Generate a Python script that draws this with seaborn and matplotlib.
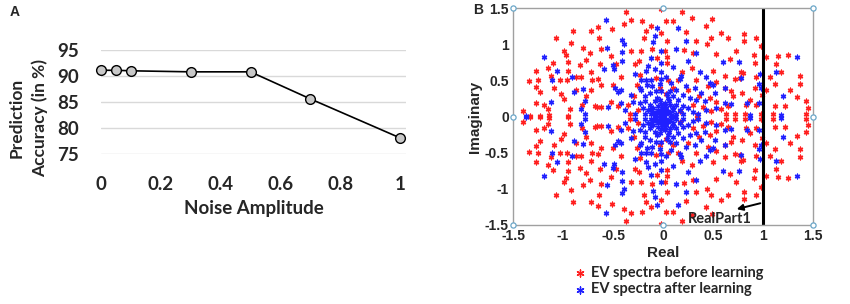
import numpy as np
import pandas as pd
import matplotlib
matplotlib.use("Agg")
import matplotlib.pyplot as plt
import seaborn as sns

# Panel A: accuracy vs noise
noise = [0, 0.05, 0.1, 0.3, 0.5, 0.7, 1.0]
accuracy = [91.1, 91.1, 91.0, 90.8, 90.8, 85.6, 78.1]
xticks_a = [0, 0.2, 0.4, 0.6, 0.8, 1]
xtick_labels_a = ["0", "0.2", "0.4", "0.6", "0.8", "1"]
yticks_a = [75, 80, 85, 90, 95]

# Panel B: eigenvalue spectra (upper half, lower half is the mirrored reading)
red_re = [-0.90, -1.07, -0.92, -0.80, -0.99, -0.97, -0.77, -0.95, -1.10, -1.15, -1.27, -0.83, -0.95,
          -1.12, -1.25, -1.34, -1.03, -0.96, -0.87, -0.82, -1.09, -1.23, -1.27, -0.87, -1.02, -0.77,
          -0.99, -1.27, -1.19, -1.15, -1.40, -0.93, -0.81, -1.33, -1.23, -1.14, -0.95,
          -0.37, -0.02, -0.32, -0.21, -0.39, -0.12, -0.65, -0.51, -0.17, -0.02, -0.72, -0.64, -0.19,
          -0.62, -0.32, -0.22, -0.11, -0.73, -0.52, -0.24, -0.63, -0.47, -0.28, -0.06, -0.72, -0.23,
          -0.42, -0.65, -0.71, -0.07, -0.62, -0.50, -0.26, -0.72, -0.29, -0.03, -0.68, -0.66, -0.62,
          -0.52, -0.45, -0.35, -0.33, -0.25,
          0.19, 0.49, 0.03, 0.10, 0.29, 0.43, 0.23, 0.58, 0.48, 0.04, 0.33, 0.65, 0.44, 0.02, 0.21,
          0.73, 0.30, 0.53, 0.04, 0.67, 0.04, 0.29, 0.19, 0.50, 0.62, 0.05, 0.15, 0.33, 0.53, 0.72,
          0.10, 0.25, 0.45, 0.62, 0.68, 0.70, 0.03, 0.36, 0.47, 0.53, 0.30, 0.40, 0.58, 0.65, 0.63,
          0.72, 0.34, 0.48, 0.17,
          0.81, 0.81, 0.93, 0.98, 0.91, 1.03, 1.15, 1.25, 1.13, 0.92, 0.78, 0.80, 0.77, 0.93, 1.07,
          1.18, 1.37, 1.12, 1.37, 0.92, 1.03, 1.27, 0.79, 0.99, 1.34, 0.87, 1.43, 0.83, 0.93, 1.12,
          1.22, 1.45, 1.43, 0.82, 0.98, 1.10]
red_im_top = [1.18, 1.08, 1.01, 0.95, 0.91, 0.85, 0.78, 0.75, 0.74, 0.67, 0.63, 0.71, 0.63,
              0.56, 0.51, 0.49, 0.50, 0.50, 0.55, 0.54, 0.40, 0.34, 0.41, 0.36, 0.31, 0.28,
              0.24, 0.18, 0.16, 0.11, 0.08, 0.11, 0.16, 0.01, 0.01, 0.02, 0.01,
              1.45, 1.48, 1.33, 1.32, 1.28, 1.25, 1.24, 1.21, 1.18, 1.16, 1.18, 1.09, 1.09,
              0.94, 0.90, 0.90, 0.94, 0.88, 0.83, 0.77, 0.73, 0.72, 0.73, 0.81, 0.62, 0.58,
              0.55, 0.52, 0.51, 0.53, 0.43, 0.44, 0.43, 0.36, 0.28, 0.39, 0.15, 0.13, 0.13,
              0.20, 0.15, 0.16, 0.04, 0.09,
              1.45, 1.35, 1.32, 1.32, 1.36, 1.25, 1.17, 1.15, 1.08, 1.04, 1.04, 1.09, 1.00, 0.91, 0.92,
              0.90, 0.88, 0.86, 0.82, 0.80, 0.74, 0.67, 0.62, 0.63, 0.56, 0.51, 0.50, 0.51, 0.48, 0.52,
              0.39, 0.37, 0.42, 0.39, 0.35, 0.29, 0.31, 0.29, 0.25, 0.20, 0.16, 0.13, 0.11, 0.14, 0.04,
              0.04, 0.02, 0.07, 0.07,
              1.14, 1.05, 1.09, 0.98, 0.85, 0.82, 0.83, 0.85, 0.73, 0.74, 0.62, 0.60, 0.53, 0.55, 0.54,
              0.62, 0.56, 0.45, 0.45, 0.39, 0.36, 0.37, 0.33, 0.30, 0.27, 0.23, 0.21, 0.16, 0.16, 0.15,
              0.14, 0.12, 0.04, 0.04, 0.04, 0.03]
red_im_bottom = [-1.18, -1.08, -1.01, -0.95, -0.91, -0.85, -0.78, -0.75, -0.74, -0.67, -0.63, -0.71, -0.63,
                 -0.56, -0.51, -0.49, -0.50, -0.50, -0.55, -0.54, -0.40, -0.34, -0.41, -0.36, -0.31, -0.28,
                 -0.24, -0.18, -0.16, -0.11, -0.08, -0.11, -0.16, -0.01, -0.01, -0.02, -0.01,
                 -1.45, -1.48, -1.33, -1.32, -1.28, -1.25, -1.24, -1.21, -1.18, -1.16, -1.18, -1.09, -1.09,
                 -0.94, -0.90, -0.90, -0.94, -0.88, -0.83, -0.77, -0.73, -0.72, -0.73, -0.81, -0.62, -0.58,
                 -0.55, -0.52, -0.51, -0.53, -0.43, -0.44, -0.43, -0.36, -0.28, -0.39, -0.15, -0.13, -0.13,
                 -0.20, -0.15, -0.16, -0.04, -0.09,
                 -1.45, -1.35, -1.32, -1.32, -1.36, -1.25, -1.17, -1.15, -1.08, -1.04, -1.04, -1.09, -1.00, -0.91, -0.92,
                 -0.90, -0.88, -0.86, -0.82, -0.80, -0.74, -0.67, -0.62, -0.63, -0.56, -0.51, -0.50, -0.51, -0.48, -0.52,
                 -0.39, -0.37, -0.42, -0.39, -0.35, -0.29, -0.31, -0.29, -0.25, -0.20, -0.16, -0.13, -0.11, -0.14, -0.04,
                 -0.04, -0.02, -0.07, -0.07,
                 -1.14, -1.05, -1.09, -0.98, -0.85, -0.82, -0.83, -0.85, -0.73, -0.74, -0.62, -0.60, -0.53, -0.55, -0.54,
                 -0.62, -0.56, -0.45, -0.45, -0.39, -0.36, -0.37, -0.33, -0.30, -0.27, -0.23, -0.21, -0.16, -0.16, -0.15,
                 -0.14, -0.12, -0.04, -0.04, -0.04, -0.03]

blue_re = [-1.19, -1.06, -1.11, -0.91, -0.80, -0.89, -1.12, -0.78, -0.82, -1.37, -0.78,
           -0.57, -0.06, -0.08, -0.41, -0.39, -0.10, -0.56, -0.41, -0.02, -0.12, -0.41, -0.02, -0.50,
           -0.15, -0.59, -0.49, -0.08, -0.17, -0.02, -0.28, -0.22, -0.17, -0.12, -0.02, -0.48, -0.42,
           -0.23, -0.16, -0.11, -0.03, -0.45, -0.32, -0.22, -0.18, -0.13, -0.07, -0.02, -0.42, -0.30,
           -0.23, -0.38, -0.55, -0.18, -0.13, -0.08, -0.03, -0.20, -0.15, -0.10, -0.05, -0.02, -0.18,
           -0.12, -0.07, -0.28,
           0.15, 0.23, 0.13, 0.33, 0.60, 0.25, 0.10, 0.37, 0.43, 0.18, 0.03, 0.08, 0.17, 0.47, 0.50,
           0.62, 0.23, 0.32, 0.52, 0.38, 0.13, 0.07, 0.20, 0.27, 0.33, 0.42, 0.15, 0.10, 0.05, 0.02,
           0.07, 0.13, 0.20, 0.25, 0.03, 0.10, 0.17, 0.02, 0.07, 0.13, 0.20, 0.30, 0.35, 0.43, 0.53,
           0.62, 0.68,
           1.34, 1.13, 0.76, 0.97, 0.78, 0.96, 0.98, 1.20, 0.84, 0.96, 0.87, 1.18,
           0.00, 0.03, -0.03, 0.05, -0.05, 0.00, 0.08, -0.08, 0.02, -0.02, 0.10, -0.10, 0.06, -0.06,
           0.12, -0.13, 0.04, -0.04, 0.01, -0.01]
blue_im_top = [0.82, 0.63, 0.51, 0.55, 0.38, 0.34, 0.20, 0.22, 0.10, 0.01, 0.04,
               1.33, 1.22, 1.11, 1.06, 1.00, 1.03, 0.95, 0.89, 0.90, 0.81, 0.77, 0.74, 0.71,
               0.70, 0.65, 0.65, 0.66, 0.63, 0.62, 0.59, 0.50, 0.51, 0.51, 0.52, 0.40, 0.37,
               0.40, 0.43, 0.42, 0.45, 0.34, 0.30, 0.36, 0.29, 0.33, 0.35, 0.35, 0.19, 0.20,
               0.19, 0.09, 0.13, 0.21, 0.16, 0.21, 0.23, 0.12, 0.09, 0.12, 0.14, 0.07, 0.04,
               0.03, 0.05, 0.03,
               1.22, 1.04, 0.93, 0.88, 0.76, 0.77, 0.69, 0.62, 0.54, 0.56, 0.54, 0.46, 0.52, 0.46, 0.44,
               0.39, 0.42, 0.39, 0.33, 0.33, 0.37, 0.35, 0.30, 0.26, 0.23, 0.21, 0.23, 0.28, 0.26, 0.19,
               0.16, 0.16, 0.14, 0.12, 0.12, 0.09, 0.09, 0.06, 0.05, 0.04, 0.03, 0.06, 0.04, 0.09, 0.12,
               0.19, 0.17,
               0.82, 0.62, 0.76, 0.59, 0.53, 0.45, 0.39, 0.28, 0.19, 0.19, 0.02, 0.02,
               0.02, 0.03, 0.02, 0.08, 0.09, 0.10, 0.02, 0.01, 0.15, 0.17, 0.13, 0.06, 0.21, 0.26,
               0.01, 0.10, 0.31, 0.05, 0.06, 0.12]
blue_im_bottom = [-0.82, -0.63, -0.51, -0.55, -0.38, -0.34, -0.20, -0.22, -0.10, -0.01, -0.04,
                  -1.33, -1.22, -1.11, -1.06, -1.00, -1.03, -0.95, -0.89, -0.90, -0.81, -0.77, -0.74, -0.71,
                  -0.70, -0.65, -0.65, -0.66, -0.63, -0.62, -0.59, -0.50, -0.51, -0.51, -0.52, -0.40, -0.37,
                  -0.40, -0.43, -0.42, -0.45, -0.34, -0.30, -0.36, -0.29, -0.33, -0.35, -0.35, -0.19, -0.20,
                  -0.19, -0.09, -0.13, -0.21, -0.16, -0.21, -0.23, -0.12, -0.09, -0.12, -0.14, -0.07, -0.04,
                  -0.03, -0.05, -0.03,
                  -1.22, -1.04, -0.93, -0.88, -0.76, -0.77, -0.69, -0.62, -0.54, -0.56, -0.54, -0.46, -0.52, -0.46, -0.44,
                  -0.39, -0.42, -0.39, -0.33, -0.33, -0.37, -0.35, -0.30, -0.26, -0.23, -0.21, -0.23, -0.28, -0.26, -0.19,
                  -0.16, -0.16, -0.14, -0.12, -0.12, -0.09, -0.09, -0.06, -0.05, -0.04, -0.03, -0.06, -0.04, -0.09, -0.12,
                  -0.19, -0.17,
                  -0.82, -0.62, -0.76, -0.59, -0.53, -0.45, -0.39, -0.28, -0.19, -0.19, -0.02, -0.02,
                  -0.02, -0.03, -0.02, -0.08, -0.09, -0.10, -0.02, -0.01, -0.15, -0.17, -0.13, -0.06, -0.21, -0.26,
                  -0.01, -0.10, -0.31, -0.05, -0.06, -0.12]

ticks_b = [-1.5, -1, -0.5, 0, 0.5, 1, 1.5]
tick_labels_b = ["-1.5", "-1", "-0.5", "0", "0.5", "1", "1.5"]
legend_labels = ["EV spectra before learning", "EV spectra after learning"]

sns.set_style("white")
plt.rcParams["font.family"] = ["Lato", "DejaVu Sans"]

fig = plt.figure(figsize=(8.5, 3.04), dpi=100)

# ---- Panel A
axA = fig.add_axes([101 / 850, 1 - 154 / 304, 305 / 850, 104 / 304])
sns.lineplot(x=noise, y=accuracy, ax=axA, color="black", linewidth=1.2, marker="o",
             markersize=7, markerfacecolor="#c8c8c8", markeredgecolor="black",
             markeredgewidth=1, clip_on=False, zorder=3)
axA.set_xlim(0, 1.02)
axA.set_ylim(75, 95)
axA.set_yticks(yticks_a)
axA.set_xticks(xticks_a, xtick_labels_a)
axA.grid(axis="y", color="#d9d9d9", linewidth=1)
axA.grid(axis="x", visible=False)
for s in axA.spines.values():
    s.set_visible(False)
axA.tick_params(length=0, labelsize=13.5, pad=16)
for lab in axA.get_xticklabels() + axA.get_yticklabels():
    lab.set_fontweight("bold")
axA.set_xlabel("Noise Amplitude", fontsize=13.5, fontweight="bold", labelpad=5)
axA.set_ylabel("Prediction\nAccuracy (in %)", fontsize=12.5, fontweight="bold",
               linespacing=1.45)
axA.yaxis.set_label_coords(-0.175, 0.35)
fig.text(15 / 850, 1 - 12 / 304, "A", fontsize=10, fontweight="bold", ha="center", va="center",
         family=["Liberation Sans"])

# ---- Panel B
axB = fig.add_axes([513 / 850, 1 - 225 / 304, 300 / 850, 217 / 304])
red_df = pd.DataFrame({"Real": red_re + red_re, "Imaginary": red_im_top + red_im_bottom})
blue_df = pd.DataFrame({"Real": blue_re + blue_re, "Imaginary": blue_im_top + blue_im_bottom})
star = (6, 2, 0)
sns.scatterplot(data=red_df, x="Real", y="Imaginary", ax=axB, color="#ff2020", marker=star,
                s=11, linewidth=1.0, label=legend_labels[0])
sns.scatterplot(data=blue_df, x="Real", y="Imaginary", ax=axB, color="#2020ff", marker=star,
                s=11, linewidth=1.0, label=legend_labels[1])
axB.plot([1, 1], [-1.5, 1.5], color="black", linewidth=2.2)
axB.annotate("", xy=(0.71, -1.29), xytext=(1.0, -1.19),
             arrowprops=dict(arrowstyle="-|>", color="black", lw=1.4, mutation_scale=9))
axB.text(0.57, -1.42, "RealPart1", fontsize=10.5, fontweight="bold", ha="center", va="center")
hx = [-1.5, 0, 1.5, -1.5, 1.5, -1.5, 0, 1.5]
hy = [1.5, 1.5, 1.5, 0, 0, -1.5, -1.5, -1.5]
axB.scatter(hx, hy, s=14, facecolor="white", edgecolor="#6aa6c8", linewidth=0.9,
            clip_on=False, zorder=5)
axB.set_xlim(-1.5, 1.5)
axB.set_ylim(-1.5, 1.5)
axB.set_xticks(ticks_b, tick_labels_b)
axB.set_yticks(ticks_b, tick_labels_b)
for s in axB.spines.values():
    s.set_color("#a0a0a0")
    s.set_linewidth(1)
axB.tick_params(direction="in", length=3, color="#a0a0a0", labelsize=10, pad=3)
for lab in axB.get_xticklabels() + axB.get_yticklabels():
    lab.set_fontfamily(["Liberation Sans", "DejaVu Sans"])
    lab.set_fontweight("bold")
axB.set_xlabel("Real", fontsize=11, fontweight="bold", family=["Liberation Sans"], labelpad=2)
axB.set_ylabel("Imaginary", fontsize=11, fontweight="bold", family=["Liberation Sans"], labelpad=2)
leg = axB.legend(loc="upper left", bbox_to_anchor=(0.205, -0.19), frameon=False,
                 borderaxespad=0, borderpad=0, handlelength=0.8, handletextpad=0.3,
                 labelspacing=0.15, markerscale=1.5, prop={"weight": "bold", "size": 10.5})
fig.text(478 / 850, 1 - 10 / 304, "B", fontsize=10, fontweight="bold", ha="center", va="center",
         family=["Liberation Sans"])

fig.savefig("out.png", dpi=100)
